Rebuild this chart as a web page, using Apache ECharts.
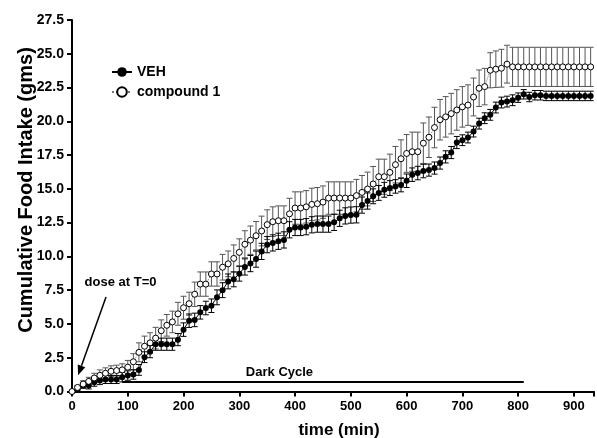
<!DOCTYPE html>
<html>
<head>
<meta charset="utf-8">
<script src="https://cdn.jsdelivr.net/npm/echarts@6/dist/echarts.min.js"></script>
<style>
html,body{margin:0;padding:0;background:#fff;}
#chart{width:597px;height:438px;}
</style>
</head>
<body>
<div id="chart"></div>
<script>
// sample times (min)
const time = [0,10,20,30,40,50,60,70,80,90,100,110,120,130,140,150,160,170,180,190,
  200,210,220,230,240,250,260,270,280,290,300,310,320,330,340,350,360,370,380,390,
  400,410,420,430,440,450,460,470,480,490,500,510,520,530,540,550,560,570,580,590,
  600,610,620,630,640,650,660,670,680,690,700,710,720,730,740,750,760,770,780,790,
  800,810,820,830,840,850,860,870,880,890,900,910,920,930];
// VEH mean cumulative intake (g)
const vehMean = [0,0.2,0.44,0.44,0.69,0.81,0.89,0.89,0.89,1.06,
  1.18,1.26,1.6,2.54,2.95,3.5,3.5,3.5,3.5,3.84,
  4.58,5.24,5.3,5.86,6.18,6.35,6.97,7.5,8.15,8.3,
  8.72,9.22,9.47,9.8,10.37,10.87,11.0,11.12,11.22,11.97,
  12.14,12.14,12.2,12.34,12.39,12.39,12.39,12.52,12.82,13.0,
  13.06,13.08,13.8,14.1,14.45,14.7,14.93,15.06,15.18,15.28,
  15.6,16.05,16.17,16.32,16.39,16.54,16.91,17.37,17.69,18.43,
  18.6,18.8,19.24,19.83,20.23,20.48,21.02,21.39,21.46,21.56,
  21.75,22.0,21.8,21.93,21.93,21.88,21.88,21.88,21.88,21.88,
  21.88,21.88,21.88,21.88];
const vehSem = [0,0.15,0.2,0.25,0.3,0.3,0.3,0.3,0.3,0.35,
  0.35,0.35,0.4,0.4,0.45,0.45,0.45,0.45,0.45,0.45,
  0.5,0.5,0.5,0.5,0.5,0.5,0.55,0.55,0.55,0.55,
  0.55,0.6,0.6,0.6,0.6,0.6,0.6,0.6,0.6,0.6,
  0.6,0.6,0.6,0.6,0.6,0.6,0.6,0.6,0.6,0.6,
  0.6,0.6,0.6,0.6,0.55,0.55,0.55,0.55,0.5,0.5,
  0.5,0.5,0.5,0.5,0.45,0.45,0.45,0.45,0.45,0.45,
  0.4,0.4,0.4,0.4,0.4,0.4,0.4,0.4,0.4,0.4,
  0.35,0.35,0.35,0.35,0.35,0.35,0.35,0.35,0.35,0.35,
  0.35,0.35,0.35,0.35];
// compound 1 mean cumulative intake (g)
const cmpMean = [0,0.3,0.55,0.75,1.0,1.2,1.35,1.5,1.55,1.6,
  1.8,2.2,2.9,3.35,3.6,3.95,4.5,4.9,5.15,5.75,
  6.2,6.5,7.2,7.95,7.95,8.7,8.7,9.2,9.45,9.85,
  10.3,10.9,11.2,11.53,11.88,12.35,12.57,12.64,12.64,13.15,
  13.58,13.58,13.67,13.85,13.9,14.02,14.32,14.32,14.32,14.32,
  14.32,14.5,14.74,14.99,15.36,15.9,15.9,16.22,16.79,17.23,
  17.62,17.75,17.75,18.38,18.82,19.54,20.12,20.33,20.57,20.84,
  21.07,21.2,21.8,22.45,22.57,23.78,23.86,23.93,24.23,24.03,
  24.03,24.03,24.03,24.03,24.03,24.03,24.03,24.03,24.03,24.03,
  24.03,24.03,24.03,24.03];
const cmpSem = [0,0.15,0.25,0.3,0.35,0.4,0.4,0.4,0.4,0.45,
  0.5,0.6,0.7,0.75,0.75,0.8,0.8,0.8,0.8,0.85,
  0.85,0.85,0.9,0.9,0.9,0.9,0.9,0.95,0.95,1.0,
  1.0,1.0,1.05,1.05,1.1,1.1,1.1,1.1,1.1,1.15,
  1.2,1.2,1.2,1.2,1.2,1.2,1.2,1.2,1.2,1.2,
  1.2,1.2,1.25,1.25,1.3,1.3,1.3,1.35,1.35,1.4,
  1.4,1.45,1.45,1.5,1.5,1.5,1.5,1.5,1.5,1.5,
  1.5,1.5,1.4,1.35,1.35,1.3,1.35,1.4,1.4,1.45,
  1.45,1.45,1.45,1.45,1.45,1.45,1.45,1.45,1.45,1.45,
  1.45,1.45,1.45,1.45];
// dark cycle bar (min) and its level (g)
const darkCycle = [90, 810];
const darkLevel = 0.7;
// annotation arrow: [tFrom, vFrom, tTo, vTo]
const doseArrow = [61, 7.0, 11, 1.2];
const notes = [
  {text: 'dose at T=0', t: 87, v: 8.05},
  {text: 'Dark Cycle', t: 372, v: 1.4}
];
const yTicks = [0,2.5,5,7.5,10,12.5,15,17.5,20,22.5,25,27.5];

const FONT = '"Liberation Sans", Arial, Helvetica, sans-serif';
const chart = echarts.init(document.getElementById('chart'), null, {renderer: 'canvas'});

function errData(mean, sem) {
  return time.map((t, i) => [t, mean[i] - sem[i], mean[i] + sem[i], sem[i]]);
}
function errRender(color) {
  return function (params, api) {
    const sem = api.value(3);
    if (!(sem > 0)) return null;
    const x = api.value(0);
    const p1 = api.coord([x, api.value(2)]);
    const p2 = api.coord([x, api.value(1)]);
    const hw = 3;
    const st = {stroke: color, lineWidth: 1};
    return {
      type: 'group',
      children: [
        {type: 'line', shape: {x1: p1[0], y1: p1[1], x2: p2[0], y2: p2[1]}, style: st},
        {type: 'line', shape: {x1: p1[0] - hw, y1: p1[1], x2: p1[0] + hw, y2: p1[1]}, style: st},
        {type: 'line', shape: {x1: p2[0] - hw, y1: p2[1], x2: p2[0] + hw, y2: p2[1]}, style: st}
      ]
    };
  };
}

const option = {
  animation: false,
  backgroundColor: '#ffffff',
  grid: {left: 72, right: 0, top: 20, bottom: 46.5, containLabel: false},
  legend: {
    data: ['VEH', 'compound 1'],
    orient: 'vertical',
    left: 106, top: 60,
    itemWidth: 20, itemHeight: 12, itemGap: 6,
    textStyle: {fontFamily: FONT, fontWeight: 'bold', fontSize: 14, color: '#000'},
    selectedMode: false
  },
  xAxis: {
    type: 'value', min: 0, max: 936, interval: 100,
    axisLine: {show: true, lineStyle: {color: '#000', width: 2}},
    axisTick: {show: true, length: 5, lineStyle: {color: '#000', width: 2}},
    axisLabel: {
      margin: 8, color: '#000', fontFamily: FONT, fontWeight: 'bold', fontSize: 13,
      formatter: v => (v % 100 === 0 ? String(v) : '')
    },
    splitLine: {show: false}
  },
  yAxis: {
    type: 'value', min: 0, max: 27.5, interval: 2.5,
    axisLine: {show: true, lineStyle: {color: '#000', width: 2}},
    axisTick: {show: true, length: 5, lineStyle: {color: '#000', width: 2}},
    axisLabel: {
      margin: 8, color: '#000', fontFamily: FONT, fontWeight: 'bold', fontSize: 14,
      formatter: v => (yTicks.indexOf(v) >= 0 ? v.toFixed(1) : '')
    },
    splitLine: {show: false}
  },
  graphic: [
    {type: 'text', x: 339, y: 430, z: 10,
     style: {text: 'time (min)', font: 'bold 17px ' + FONT, fill: '#000', align: 'center', verticalAlign: 'middle'}},
    {type: 'text', x: 26, y: 190, rotation: Math.PI / 2, z: 10,
     style: {text: 'Cumulative Food Intake (gms)', font: 'bold 20px ' + FONT, fill: '#000', align: 'center', verticalAlign: 'middle'}}
  ],
  series: [
    {
      name: 'cmpErr', type: 'custom', z: 2, silent: true,
      data: errData(cmpMean, cmpSem), encode: {x: 0, y: [1, 2]},
      renderItem: errRender('#555')
    },
    {
      name: 'vehErr', type: 'custom', z: 2, silent: true,
      data: errData(vehMean, vehSem), encode: {x: 0, y: [1, 2]},
      renderItem: errRender('#000')
    },
    {
      name: 'darkCycle', type: 'line', z: 3, silent: true, symbol: 'none',
      data: darkCycle.map(t => [t, darkLevel]),
      lineStyle: {color: '#000', width: 2}
    },
    {
      name: 'VEH', type: 'line', z: 4,
      data: time.map((t, i) => [t, vehMean[i]]),
      symbol: 'circle', symbolSize: 6,
      itemStyle: {color: '#000', borderColor: '#000', borderWidth: 0},
      lineStyle: {color: '#000', width: 1}
    },
    {
      name: 'compound 1', type: 'line', z: 5,
      data: time.map((t, i) => [t, cmpMean[i]]),
      symbol: 'circle', symbolSize: 6,
      itemStyle: {color: '#fff', borderColor: '#000', borderWidth: 1},
      lineStyle: {color: '#777', width: 1, type: 'dotted'}
    },
    {
      name: 'notes', type: 'custom', z: 6, silent: true,
      data: [doseArrow],
      renderItem: function (params, api) {
        const a = api.coord([api.value(0), api.value(1)]);
        const b = api.coord([api.value(2), api.value(3)]);
        const dx = b[0] - a[0], dy = b[1] - a[1];
        const len = Math.sqrt(dx * dx + dy * dy);
        const ux = dx / len, uy = dy / len;
        const hl = 10, hw = 4;
        const bx = b[0] - ux * hl, by = b[1] - uy * hl;
        const children = [
          {type: 'line', shape: {x1: a[0], y1: a[1], x2: bx, y2: by}, style: {stroke: '#000', lineWidth: 1.5}},
          {type: 'polygon', shape: {points: [[b[0], b[1]], [bx - uy * hw, by + ux * hw], [bx + uy * hw, by - ux * hw]]}, style: {fill: '#000'}}
        ];
        notes.forEach(n => {
          const p = api.coord([n.t, n.v]);
          children.push({type: 'text', x: p[0], y: p[1],
            style: {text: n.text, font: 'bold 13px ' + FONT, fill: '#000', align: 'center', verticalAlign: 'middle'}});
        });
        return {type: 'group', children: children};
      }
    }
  ]
};
chart.setOption(option);
</script>
</body>
</html>
